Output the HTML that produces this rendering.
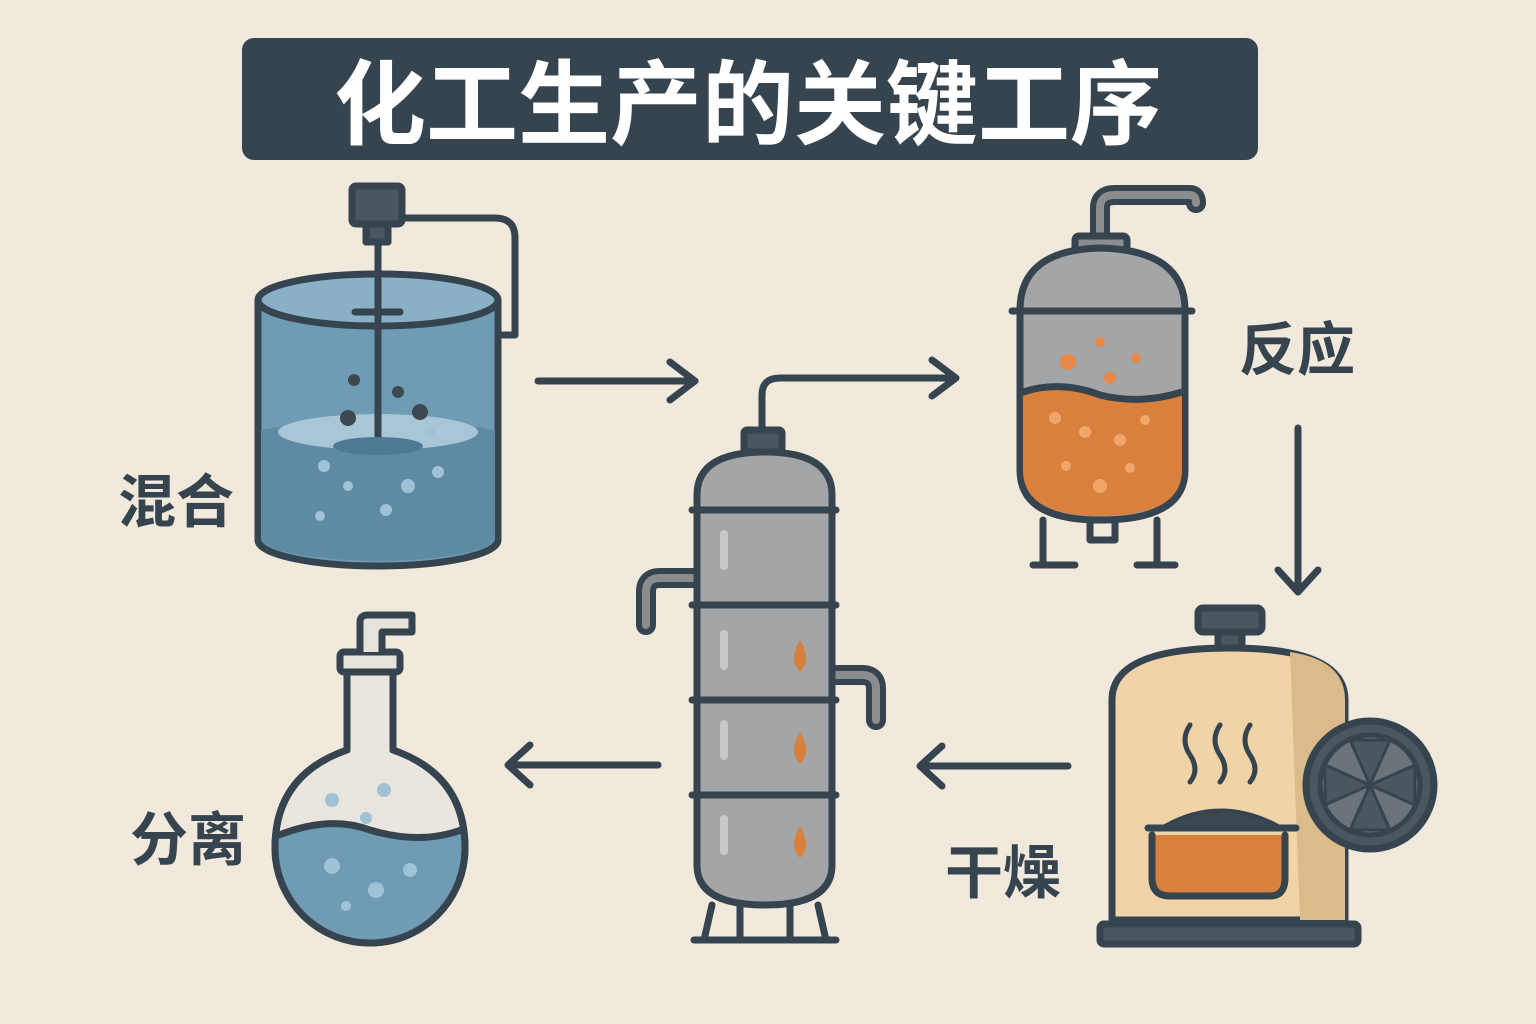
<!DOCTYPE html>
<html><head><meta charset="utf-8"><style>
html,body{margin:0;padding:0;background:#f1e9db;}
svg{display:block}
text{font-family:"Liberation Sans","Noto Sans CJK SC",sans-serif;font-weight:bold}
</style></head><body>
<svg width="1536" height="1024" viewBox="0 0 1536 1024" xmlns="http://www.w3.org/2000/svg">
<rect width="1536" height="1024" fill="#f1e9db"/>
<rect x="242" y="38" width="1016" height="122" rx="12" fill="#35444f"/>
<text x="748" y="137" font-size="92" fill="#fff" text-anchor="middle">化工生产的关键工序</text>

<g stroke="#35444f" stroke-width="7" fill="none" stroke-linecap="round" stroke-linejoin="round">
<!-- mixing tank -->
<path d="M400 218 H495 Q515 218 515 238 V335 H498"/>
<rect x="352" y="186" width="50" height="38" rx="4" fill="#4a5660"/>
<rect x="366" y="224" width="22" height="18" fill="#4a5660"/>
<path d="M258 300 V540 A120 26 0 0 0 498 540 V300" fill="#6f9bb5"/>
<path d="M261 430 Q378 410 495 430 V540 A118 24 0 0 1 261 540 Z" fill="#5f8aa4" stroke="none"/>
<ellipse cx="378" cy="300" rx="120" ry="26" fill="#8ab0c6"/>
<ellipse cx="378" cy="432" rx="100" ry="18" fill="#a9c6d6" stroke="none"/>
<line x1="378" y1="242" x2="378" y2="445"/>
<line x1="355" y1="312" x2="400" y2="312"/>
<ellipse cx="378" cy="446" rx="45" ry="9" fill="#4d7b95" stroke="none"/>
<!-- arrows -->
<path d="M538 381 H695 M670 362 L695 381 L670 400"/>
<path d="M762 430 V395 Q762 378 780 378 H956 M932 360 L956 378 L932 396"/>
<path d="M1298 428 V592 M1278 570 L1298 592 L1318 570"/>
<path d="M1068 766 H920 M942 746 L920 766 L942 786"/>
<path d="M658 765 H508 M530 745 L508 765 L530 785"/>
<!-- reactor pipe thick -->
<path d="M1100 240 V208 Q1100 195 1115 195 H1190 Q1196 195 1196 203" stroke-width="20"/>
<path d="M1100 240 V208 Q1100 195 1115 195 H1190 Q1196 195 1196 203" stroke="#8a8c8e" stroke-width="8"/>
<rect x="1075" y="236" width="52" height="14" rx="4" fill="#8a8c8e"/>
<path d="M1020 310 V470 Q1020 520 1100 520 Q1185 520 1185 470 V310 Q1185 250 1100 248 Q1020 250 1020 310 Z" fill="#a3a5a6"/>
<path d="M1023 392 Q1060 380 1100 395 Q1140 405 1182 392 V470 Q1182 516 1100 516 Q1023 516 1023 470 Z" fill="#d9813c" stroke="none"/>
<path d="M1023 392 Q1060 380 1100 395 Q1140 405 1182 392"/>
<path d="M1012 311 H1192"/>
<path d="M1043 520 V565 M1033 565 H1075 M1157 520 V565 M1137 565 H1175 M1090 520 V540 H1115 V520"/>
<!-- column side pipes thick -->
<path d="M697 578 H660 Q646 578 646 592 V625" stroke-width="20"/>
<path d="M697 578 H660 Q646 578 646 592 V625" stroke="#8a8c8e" stroke-width="8"/>
<path d="M832 675 H862 Q876 675 876 689 V720" stroke-width="20"/>
<path d="M832 675 H862 Q876 675 876 689 V720" stroke="#8a8c8e" stroke-width="8"/>
<!-- column -->
<rect x="744" y="430" width="38" height="22" rx="3" fill="#4a5660"/>
<path d="M697 495 Q697 452 765 452 Q832 452 832 495 V865 Q832 905 765 905 Q697 905 697 865 Z" fill="#a3a5a6"/>
<path d="M692 510 H836 M692 605 H836 M692 700 H836 M692 795 H836"/>
<path d="M712 905 L704 940 M740 905 V940 M790 905 V940 M818 905 L826 940 M694 940 H836"/>
<!-- dryer -->
<path d="M1112 920 V700 Q1112 648 1230 648 Q1345 648 1345 700 V920 Z" fill="#f0d4a8"/>
<path d="M1290 652 Q1345 660 1345 700 V920 H1300 Z" fill="#dcbb8a" stroke="none"/>
<rect x="1100" y="924" width="258" height="20" rx="4" fill="#4a5660"/>
<rect x="1198" y="608" width="64" height="24" rx="5" fill="#4a5660"/>
<rect x="1218" y="632" width="24" height="16" fill="#4a5660"/>
<circle cx="1370" cy="785" r="64" fill="#4a5660"/>
<circle cx="1370" cy="785" r="50" fill="#6b737a" stroke-width="5"/>
<path d="M1370 785 L1350 740 L1390 740 Z M1370 785 L1415 765 L1415 805 Z M1370 785 L1390 830 L1350 830 Z M1370 785 L1325 805 L1325 765 Z" fill="#4a5660" stroke-width="3"/>
<path d="M1190 725 Q1180 740 1190 755 Q1200 770 1190 782 M1220 725 Q1210 740 1220 755 Q1230 770 1220 782 M1250 725 Q1240 740 1250 755 Q1260 770 1250 782" stroke-width="5"/>
<path d="M1148 828 H1296 M1152 835 V878 Q1152 896 1170 896 H1270 Q1285 896 1285 878 V835" fill="#d9813c"/>
<path d="M1165 826 Q1220 795 1278 826 Z" fill="#3d474f" stroke-width="4"/>
<!-- flask -->
<rect x="340" y="652" width="60" height="20" rx="4" fill="#e8e4dc"/>
<path d="M360 652 V622 Q360 615 368 615 H412 V632 H382 V652" fill="#e8e4dc"/>
<path d="M347 672 V750 Q275 775 275 848 A95 95 0 0 0 465 848 Q465 775 393 750 V672 Z" fill="#ebe6dd"/>
<path d="M279 835 Q330 815 370 830 Q420 845 461 830 Q466 848 460 870 A92 92 0 0 1 280 870 Q275 850 279 835 Z" fill="#6f9bb5" stroke="none"/>
<path d="M279 835 Q330 815 370 830 Q420 845 461 830"/>
<path d="M347 672 V750 Q275 775 275 848 A95 95 0 0 0 465 848 Q465 775 393 750 V672 Z"/>
</g>
<g fill="#3d474f"><circle cx="354" cy="380" r="6"/><circle cx="398" cy="392" r="6"/><circle cx="348" cy="418" r="8"/><circle cx="420" cy="412" r="8"/></g>
<g fill="#9fc2d6"><circle cx="324" cy="466" r="6"/><circle cx="348" cy="486" r="5"/><circle cx="408" cy="486" r="7"/><circle cx="438" cy="472" r="6"/><circle cx="320" cy="516" r="5"/><circle cx="386" cy="510" r="6"/><circle cx="430" cy="432" r="5"/></g>
<g fill="#e8894a"><circle cx="1068" cy="362" r="8"/><circle cx="1110" cy="378" r="6"/><circle cx="1136" cy="358" r="5"/><circle cx="1100" cy="342" r="5"/></g>
<g fill="#f0a66a"><circle cx="1055" cy="418" r="6"/><circle cx="1085" cy="432" r="6"/><circle cx="1120" cy="440" r="6"/><circle cx="1145" cy="420" r="5"/><circle cx="1066" cy="466" r="5"/><circle cx="1100" cy="486" r="7"/><circle cx="1130" cy="468" r="5"/></g>
<g fill="#d9813c"><path d="M800 640 Q788 660 800 672 Q812 660 800 640Z"/><path d="M800 732 Q788 752 800 764 Q812 752 800 732Z"/><path d="M800 826 Q788 846 800 858 Q812 846 800 826Z"/></g>
<g fill="#c9c9c9"><rect x="720" y="530" width="8" height="40" rx="4"/><rect x="720" y="630" width="8" height="40" rx="4"/><rect x="720" y="720" width="8" height="40" rx="4"/><rect x="720" y="815" width="8" height="40" rx="4"/></g>
<g fill="#9fc2d6"><circle cx="332" cy="800" r="7"/><circle cx="366" cy="818" r="6"/><circle cx="384" cy="790" r="7"/><circle cx="332" cy="866" r="8"/><circle cx="376" cy="890" r="8"/><circle cx="410" cy="870" r="7"/><circle cx="346" cy="906" r="5"/></g>
<g font-size="58" fill="#35444f">
<text x="176" y="522" text-anchor="middle">混合</text>
<text x="1297" y="370" text-anchor="middle">反应</text>
<text x="1003" y="893" text-anchor="middle">干燥</text>
<text x="188" y="860" text-anchor="middle">分离</text>
</g>
</svg>
</body></html>
